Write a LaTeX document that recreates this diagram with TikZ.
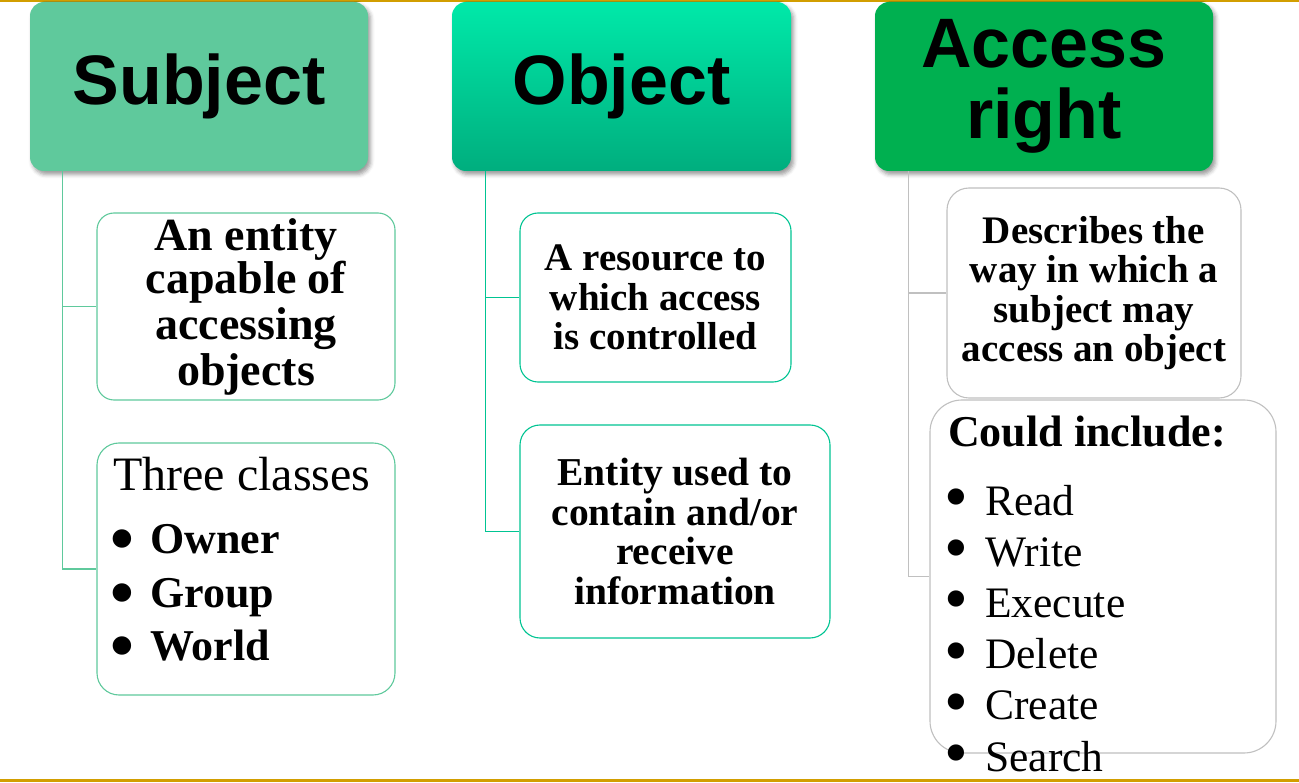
\documentclass[tikz,border=0pt]{standalone}
\usepackage{fontspec}
\setmainfont{Liberation Serif}
\newfontfamily\headfont{Liberation Sans}
\usetikzlibrary{shadows.blur}

\definecolor{rulegold}{RGB}{210,158,0}
\definecolor{subjgreen}{RGB}{95,201,156}
\definecolor{objtop}{RGB}{0,233,169}
\definecolor{objbot}{RGB}{0,174,126}
\definecolor{objline}{RGB}{0,196,146}
\definecolor{accgreen}{RGB}{0,176,80}
\definecolor{accline}{RGB}{192,192,192}

\tikzset{
  header/.style={rounded corners=14pt, inner sep=0pt, align=center,
    font=\headfont\bfseries\fontsize{70}{71}\selectfont,
    blur shadow={shadow xshift=2.5pt, shadow yshift=-3.5pt,
                 shadow blur radius=4pt, shadow opacity=40}},
  infobox/.style={draw, fill=white, line width=1.1pt, inner sep=0pt, align=center},
  branch/.style={line width=1.2pt},
  listline/.style={anchor=base west, inner sep=0pt},
}

% large list bullet: #1 = room taken by the bullet, #2 = lowering
\newcommand\bul[2]{\makebox[#1][l]{\hspace{-3pt}\smash{\raisebox{-#2}{\fontsize{68}{68}\selectfont\textbullet}}}}

\begin{document}
\begin{tikzpicture}[x=1pt,y=-1pt]
  \useasboundingbox (0,0) rectangle (1299,783);

  % rules above and below
  \fill[rulegold] (0,0) rectangle (1299,1.8);
  \fill[rulegold] (0,779.2) rectangle (1299,781.8);

  % column headers
  \node[header, fill=subjgreen, minimum width=338pt, minimum height=169pt]
    (sh) at (199,86.5) {Subject};
  \node[header, top color=objtop, bottom color=objbot, minimum width=339pt, minimum height=169pt]
    (oh) at (621.5,86.5) {Object};
  \node[header, fill=accgreen, minimum width=338pt, minimum height=169pt]
    (ah) at (1044,86.5) {Access\\right};

  % Subject column
  \node[infobox, draw=subjgreen, rounded corners=17pt, minimum width=298pt, minimum height=187pt,
        font=\bfseries\fontsize{46}{46}\selectfont]
    (sb1) at (246,306.5) {\raisebox{-3pt}{An entity}\\capable of\\accessing\\objects};
  \node[infobox, draw=subjgreen, rounded corners=22pt, minimum width=298pt, minimum height=252pt]
    (sb2) at (246,569) {};
  \node[listline, font=\fontsize{48}{48}\selectfont] (sb2h) at (113,490) {Three classes};
  \node[listline, font=\bfseries\fontsize{44}{44}\selectfont] (sb2a) at (113,553) {\bul{37pt}{8pt}Owner};
  \node[listline, font=\bfseries\fontsize{44}{44}\selectfont] (sb2b) at (113,607) {\bul{37pt}{8pt}Group};
  \node[listline, font=\bfseries\fontsize{44}{44}\selectfont] (sb2c) at (113,660) {\bul{37pt}{8pt}World};

  % Object column
  \node[infobox, draw=objline, rounded corners=18pt, minimum width=271pt, minimum height=169pt,
        font=\bfseries\fontsize{39}{39.5}\selectfont]
    (ob1) at (655.5,297.5) {A resource to\\which access\\is controlled};
  \node[infobox, draw=objline, rounded corners=20pt, minimum width=310pt, minimum height=213pt,
        font=\bfseries\fontsize{39.5}{39.7}\selectfont]
    (ob2) at (675,531.5) {Entity used to\\contain and/or\\receive\\information};

  % Access right column
  \node[infobox, draw=accline, rounded corners=22pt, minimum width=294pt, minimum height=210pt,
        font=\bfseries\fontsize{39}{39.3}\selectfont]
    (ab1) at (1094,293) {Describes the\\way in which a\\subject may\\access an object};
  \node[infobox, draw=accline, rounded corners=32pt, minimum width=346pt, minimum height=353pt]
    (ab2) at (1103,576.5) {};
  \node[listline, font=\bfseries\fontsize{44}{44}\selectfont] (ab2h) at (948,447) {Could include:};
  \foreach \lbl [count=\k from 0] in {Read,Write,Execute,Delete,Create,Search}
    \node[listline, font=\fontsize{43.5}{43.5}\selectfont] (ab2i\k) at (947,515+51.2*\k) {\bul{38pt}{4.5pt}\lbl};

  % connectors from each header to its boxes
  \draw[branch, subjgreen] (sh.south west) ++(33,0) |- (sb1.west);
  \draw[branch, subjgreen] (sh.south west) ++(33,0) |- (sb2.west);
  \draw[branch, objline] (oh.south west) ++(34,0) |- (ob1.west);
  \draw[branch, objline] (oh.south west) ++(34,0) |- (ob2.west);
  \draw[branch, accline] (ah.south west) ++(34,0) |- (ab1.west);
  \draw[branch, accline] (ah.south west) ++(34,0) |- (ab2.west);
\end{tikzpicture}
\end{document}
